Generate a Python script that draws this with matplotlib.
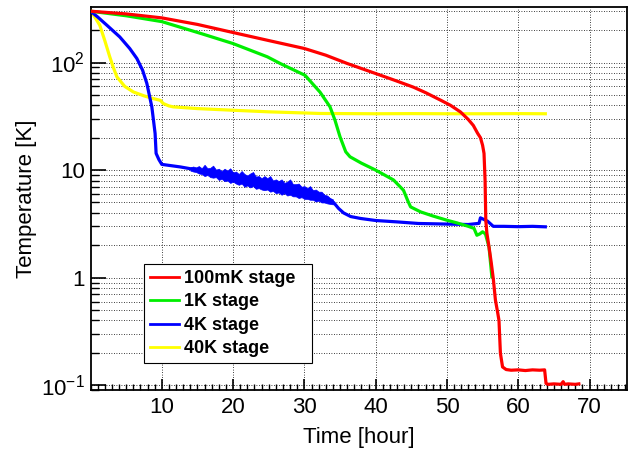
# cooldown curves of the four stages
import numpy as np
import matplotlib
matplotlib.use("Agg")
from matplotlib import pyplot as plt
from matplotlib.ticker import LogLocator, NullFormatter, MultipleLocator

plt.rcParams['font.family'] = ['Liberation Sans', 'DejaVu Sans']
plt.rcParams['mathtext.fontset'] = 'custom'
plt.rcParams['mathtext.rm'] = 'Liberation Sans'

# 100mK stage
t_100mk = [0, 5, 10, 15, 20, 25, 30, 33, 36, 38, 40, 42.5, 45.3, 47, 49.1, 50.5, 51.9, 53, 53.7,
           54.3, 54.7, 55.0, 55.2, 55.35, 55.45, 55.6, 55.9, 56.2, 56.5, 56.8, 57.1, 57.3, 57.5,
           57.8, 58.3, 59, 60, 61, 62, 63, 63.7, 63.9, 64.2, 65, 66, 66.3, 66.5, 67, 68, 68.5]
T_100mk = [300, 283, 260, 226, 190, 160, 135, 117, 98, 88, 79, 69, 59, 52.5, 44.7, 40, 34.7, 29.5, 26,
           22, 20, 17, 14.3, 8, 3.4, 2.6, 1.93, 1.4, 0.98, 0.62, 0.48, 0.40, 0.198,
           0.148, 0.140, 0.138, 0.139, 0.137, 0.139, 0.138, 0.139, 0.104, 0.102, 0.103, 0.102, 0.108,
           0.102, 0.103, 0.102, 0.103]

# 1K stage
t_1k = [0, 5, 10, 15.5, 20, 24.8, 26.6, 30.1, 32.2, 33.6, 34.3, 35.0, 35.8, 36.4, 38, 40, 42.5,
        43.9, 44.5, 44.9, 46.3, 48, 50, 51.4, 53.0, 53.8, 54.2, 54.6, 55.0, 55.4, 55.9, 56.3]
T_1k = [300, 272, 240, 186, 150, 113, 98, 76, 53, 38.7, 29, 20.4, 14.8, 13.3, 11.6, 10.0, 8.1,
        6.5, 5.2, 4.55, 4.09, 3.75, 3.42, 3.23, 3.0, 2.87, 2.48, 2.55, 2.67, 2.55, 1.93, 1.02]

# 4K stage
t_4k = [0, 1, 2.3, 4.1, 5.5, 6.5, 7.3, 7.9, 8.6, 9.06, 9.2, 9.6, 10, 12.6, 14, 16.3, 18, 21, 23,
        25.7, 28, 30.4, 32, 33.5, 34.1, 34.8, 35.5, 36.5, 37.9, 40, 43, 46, 50, 53, 54.5, 54.7,
        55.7, 56.5, 58, 60, 62, 63.8]
T_4k = [300, 265, 222, 173, 135, 109, 85, 64, 38.7, 21.9, 14.3, 12.5, 11.3, 10.7, 10.3, 9.6, 9.1,
        8.06, 7.7, 7.24, 6.8, 6.27, 5.8, 5.3, 5.0, 4.4, 4.0, 3.7, 3.55, 3.4, 3.3, 3.19, 3.15, 3.12,
        3.2, 3.6, 3.35, 3.0, 3.0, 2.98, 3.0, 2.97]

# 4K stage noise band
t_noise = [14.0, 14.4, 14.8, 15.2, 15.6, 16.0, 16.4, 16.8, 17.2, 17.6, 18.0, 18.4, 18.8, 19.2,
           19.6, 20.0, 20.4, 20.8, 21.2, 21.6, 22.0, 22.4, 22.8, 23.2, 23.6, 24.0, 24.4, 24.8,
           25.2, 25.6, 26.0, 26.4, 26.8, 27.2, 27.6, 28.0, 28.4, 28.8, 29.2, 29.6, 30.0, 30.4,
           30.8, 31.2, 31.6, 32.0, 32.4, 32.8, 33.2, 33.6, 34.0]
T_noise_hi = [10.6, 10.8, 10.6, 10.9, 10.4, 11.2, 10.4, 10.5, 11.0, 10.1, 10.3, 9.8, 10.3, 9.9,
              10.4, 9.5, 9.7, 9.2, 9.8, 9.2, 8.9, 9.3, 9.6, 8.7, 8.8, 8.4, 8.8, 8.4, 8.8, 8.0,
              8.2, 7.9, 8.2, 7.6, 7.8, 8.2, 7.4, 7.4, 7.5, 7.0, 7.1, 6.8, 7.1, 6.5, 6.6, 6.3,
              6.3, 5.9, 5.8, 5.5, 5.35]
T_noise_lo = [9.9, 9.7, 9.6, 9.3, 9.2, 8.8, 9.0, 8.6, 8.5, 8.6, 8.1, 8.3, 7.9, 8.0, 7.6, 7.8,
              7.5, 7.3, 7.5, 7.0, 7.2, 6.9, 7.1, 6.7, 6.8, 6.6, 6.5, 6.6, 6.3, 6.4, 6.1, 6.2,
              5.9, 6.1, 5.8, 5.9, 5.7, 5.7, 5.5, 5.6, 5.4, 5.4, 5.3, 5.3, 5.1, 5.2, 5.0, 5.0,
              4.9, 4.85, 4.8]

# 40K stage
t_40k = [0, 0.6, 1.3, 2.0, 2.7, 3.2, 3.7, 4.8, 6, 7.5, 8.8, 9.8, 10.2, 11, 11.6, 15, 20, 25,
         32.2, 40, 45, 50, 55, 60, 63.8]
T_40k = [300, 265, 222, 160, 113, 90, 73.5, 60, 53.3, 49, 46.2, 44.5, 41.6, 39.5, 38.7, 37.3, 36,
         34.8, 33.6, 33.4, 33.5, 33.4, 33.4, 33.5, 33.4]

labels = ['100mK stage', '1K stage', '4K stage', '40K stage']
colors = ['#ff0000', '#00ee00', '#0000ff', '#ffff00']

fig = plt.figure(figsize=(6.33, 4.49), dpi=100)
ax = fig.add_axes([0.143, 0.131, 0.848, 0.854])

lw = 2.3
ax.plot(t_100mk, T_100mk, color=colors[0], lw=lw, label=labels[0], zorder=5)
ax.plot(t_1k, T_1k, color=colors[1], lw=lw, label=labels[1], zorder=4)
ax.fill_between(t_noise, T_noise_lo, T_noise_hi, color=colors[2], lw=0.5, zorder=3)
ax.plot(t_4k, T_4k, color=colors[2], lw=lw, label=labels[2], zorder=3)
ax.plot(t_40k, T_40k, color=colors[3], lw=lw, label=labels[3], zorder=2)

ax.set_yscale('log')
ax.set_xlim(0, 75.3)
ax.set_ylim(0.09, 330)

ax.set_xticks([10, 20, 30, 40, 50, 60, 70])
ax.xaxis.set_minor_locator(MultipleLocator(1))
ax.set_yticks([0.1, 1, 10, 100])
ax.set_yticklabels([r'$10^{-1}$', '1', '10', r'$10^{2}$'])
ax.yaxis.set_minor_locator(LogLocator(base=10, subs=range(2, 10)))
ax.yaxis.set_minor_formatter(NullFormatter())

ax.tick_params(which='both', direction='in', labelsize=16, top=False, right=False)
ax.tick_params(axis='y', which='major', length=11, width=1.2, pad=4)
ax.tick_params(axis='y', which='minor', length=6, width=1)
ax.tick_params(axis='x', which='major', length=8, width=1.2, pad=5)
ax.tick_params(axis='x', which='minor', length=4, width=1)

ax.grid(True, which='both', axis='y', ls=(0, (1, 2)), color='k', lw=0.6, zorder=0)
ax.grid(True, which='major', axis='x', ls=(0, (1, 2)), color='k', lw=0.6, zorder=0)
ax.set_axisbelow(True)

for s in ax.spines.values():
    s.set_linewidth(1.3)

ax.set_xlabel('Time [hour]', fontsize=16)
ax.set_ylabel('Temperature [K]', fontsize=16)
ax.xaxis.set_label_coords(0.5, -0.095)
ax.yaxis.set_label_coords(-0.1, 0.5)

leg = ax.legend(loc='lower left', bbox_to_anchor=(0.0997, 0.0703, 0.3124, 0.25), mode='expand',
                fancybox=False, framealpha=1, edgecolor='k',
                prop={'weight': 'bold', 'size': 13},
                handlelength=1.6, handletextpad=0.3, labelspacing=0.36, borderpad=0.32,
                borderaxespad=0)
leg.get_frame().set_linewidth(0.8)
for h in leg.get_lines():
    h.set_linewidth(2)

plt.savefig('out.png', dpi=100)
